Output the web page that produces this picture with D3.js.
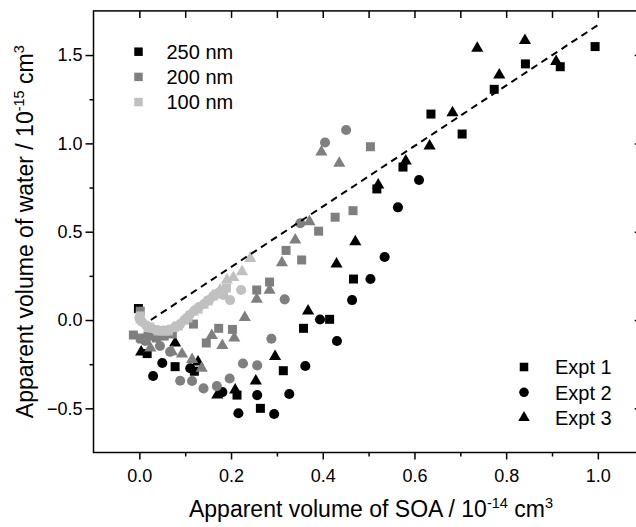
<!DOCTYPE html>
<html><head><meta charset="utf-8">
<script src="https://cdn.jsdelivr.net/npm/d3@7"></script>
<style>
body{margin:0;background:#fff}
text{font-family:"Liberation Sans",Arial,sans-serif;fill:#000}
</style>
</head><body>
<svg id="c" width="636" height="527"></svg>
<script>
// ---- data (x: apparent volume of SOA /1e-14 cm3, y: apparent volume of water /1e-15 cm3)
const sizeLabels = ["250 nm", "200 nm", "100 nm"];
const exptLabels = ["Expt 1", "Expt 2", "Expt 3"];
const sizeColors = ["#000000", "#7f7f7f", "#c0c0c0"];

const nm250_e1 = [[-0.002,0.065],[0.017,-0.19],[0.078,-0.264],[0.120,-0.29],[0.213,-0.425],[0.264,-0.50],[0.314,-0.287],[0.358,-0.047],[0.415,0.004],[0.467,0.232],[0.518,0.742],[0.575,0.866],[0.636,1.166],[0.704,1.053],[0.774,1.306],[0.842,1.450],[0.918,1.434],[0.994,1.548]];
const nm250_e2 = [[0.030,-0.317],[0.050,-0.243],[0.111,-0.273],[0.181,-0.408],[0.216,-0.528],[0.257,-0.425],[0.294,-0.532],[0.327,-0.419],[0.362,-0.260],[0.394,0.003],[0.431,-0.119],[0.464,0.113],[0.504,0.232],[0.535,0.357],[0.564,0.638],[0.610,0.793]];
const nm250_e3 = [[0.004,-0.181],[0.078,-0.130],[0.128,-0.238],[0.170,-0.425],[0.209,-0.396],[0.254,-0.345],[0.296,-0.207],[0.368,0.051],[0.430,0.317],[0.471,0.443],[0.521,0.764],[0.581,0.900],[0.633,0.985],[0.683,1.174],[0.737,1.539],[0.785,1.387],[0.841,1.582],[0.909,1.463]];

const nm200_e1 = [[0.002,0.05],[-0.013,-0.085],[0.002,-0.102],[0.019,-0.091],[0.037,-0.102],[0.054,-0.091],[0.072,-0.079],[0.118,-0.023],[0.146,-0.130],[0.173,-0.047],[0.203,-0.053],[0.256,0.170],[0.284,0.215],[0.320,0.394],[0.354,0.340],[0.391,0.503],[0.427,0.582],[0.466,0.619],[0.504,0.981]];
const nm200_e2 = [[0.013,-0.119],[0.045,-0.147],[0.067,-0.180],[0.089,-0.344],[0.115,-0.345],[0.140,-0.387],[0.169,-0.374],[0.197,-0.331],[0.226,-0.246],[0.257,-0.257],[0.288,-0.106],[0.317,0.117],[0.351,0.548],[0.405,1.005],[0.451,1.076]];
const nm200_e3 = [[0.008,-0.113],[0.024,-0.159],[0.071,-0.180],[0.093,-0.193],[0.115,-0.223],[0.136,-0.273],[0.158,-0.088],[0.181,-0.144],[0.207,-0.102],[0.230,0.014],[0.256,0.117],[0.284,0.168],[0.311,0.324],[0.340,0.453],[0.371,0.557],[0.397,0.951],[0.436,0.887]];

const nm100_e1 = [[0.002,0.023],[0.019,-0.040],[0.041,-0.062],[0.063,-0.062],[0.085,-0.034],[0.106,0.011],[0.128,0.062],[0.150,0.108],[0.168,0.147],[0.190,0.181]];
const nm100_e2 = [[0.000,0.011],[0.006,-0.011],[0.015,-0.031],[0.026,-0.045],[0.039,-0.057],[0.052,-0.059],[0.065,-0.054],[0.078,-0.040],[0.089,-0.023],[0.098,0.000],[0.109,0.028],[0.119,0.051],[0.130,0.074],[0.141,0.091],[0.152,0.113],[0.161,0.136],[0.172,0.153],[0.183,0.142],[0.198,0.113],[0.222,0.170]];
const nm100_e3 = [[0.004,0.000],[0.030,-0.051],[0.054,-0.068],[0.074,-0.045],[0.096,-0.006],[0.117,0.045],[0.139,0.085],[0.159,0.130],[0.176,0.170],[0.191,0.227],[0.205,0.241],[0.224,0.274],[0.242,0.349]];

const fitX = [0.025, 1.0];
const fitY = [0.0, 1.67];

const xMajor = [0.0, 0.2, 0.4, 0.6, 0.8, 1.0];
const xMinor = [0.1, 0.3, 0.5, 0.7, 0.9];
const xTop = [0.0, 0.1, 0.2, 0.3, 0.4, 0.5, 0.6, 0.7, 0.8, 0.9, 1.0];
const yMajor = [-0.5, 0.0, 0.5, 1.0, 1.5];
const yMinor = [-0.25, 0.25, 0.75, 1.25];

// ---- chart
const svg = d3.select("#c");
const x = d3.scaleLinear().domain([-0.1, 1.1]).range([93.5, 643.7]);
const y = d3.scaleLinear().domain([-0.75, 1.75]).range([452.5, 10.9]);

const shapes = [d3.symbolSquare, d3.symbolCircle, d3.symbolTriangle];
const shapeSizes = [81, 80, 64];

const series = [
  [nm250_e1, nm250_e2, nm250_e3],
  [nm200_e1, nm200_e2, nm200_e3],
  [nm100_e1, nm100_e2, nm100_e3]
];

const pts = svg.append("g");
series.forEach((grp, si) => {
  grp.forEach((data, ei) => {
    pts.append("g").selectAll("path").data(data).join("path")
      .attr("transform", d => `translate(${x(d[0])},${y(d[1])})`)
      .attr("d", d3.symbol().type(shapes[ei]).size(shapeSizes[ei]))
      .attr("fill", sizeColors[si]);
  });
});

// dashed fit line
svg.append("path")
  .datum(fitX.map((v, i) => [v, fitY[i]]))
  .attr("d", d3.line().x(d => x(d[0])).y(d => y(d[1])))
  .attr("fill", "none").attr("stroke", "#000").attr("stroke-width", 2)
  .attr("stroke-dasharray", "7,5");

// axes
const fmt = d3.format(".1f");
function styleAxis(g) {
  g.select(".domain").remove();
  g.selectAll(".tick line").attr("stroke", "#000").attr("stroke-width", 1.5);
  g.selectAll(".tick text").style("font-size", "18px").attr("fill", "#000");
}
const yb = y(-0.75), yt = y(1.75), xl = x(-0.1), xr = x(1.1);
svg.append("g").attr("transform", `translate(0,${yb})`)
  .call(d3.axisBottom(x).tickValues(xMajor).tickSize(7).tickPadding(10).tickFormat(fmt)).call(styleAxis);
svg.append("g").attr("transform", `translate(0,${yb})`)
  .call(d3.axisBottom(x).tickValues(xMinor).tickSize(4).tickFormat("")).call(styleAxis);
svg.append("g").attr("transform", `translate(0,${yt})`)
  .call(d3.axisBottom(x).tickValues(xTop).tickSize(7).tickFormat("")).call(styleAxis);
svg.append("g").attr("transform", `translate(${xl},0)`)
  .call(d3.axisLeft(y).tickValues(yMajor).tickSize(8).tickPadding(3).tickFormat(fmt)).call(styleAxis);
svg.append("g").attr("transform", `translate(${xl},0)`)
  .call(d3.axisLeft(y).tickValues(yMinor).tickSize(4).tickFormat("")).call(styleAxis);
svg.append("g").attr("transform", `translate(${xr},0)`)
  .call(d3.axisLeft(y).tickValues(yMajor).tickSize(9).tickFormat("")).call(styleAxis);

svg.append("rect").attr("x", xl).attr("y", yt).attr("width", xr - xl).attr("height", yb - yt)
  .attr("fill", "none").attr("stroke", "#000").attr("stroke-width", 1.5);

// axis titles
const xt = svg.append("text").attr("x", 371).attr("y", 517)
  .attr("text-anchor", "middle").style("font-size", "23px");
xt.append("tspan").text("Apparent volume of SOA / 10");
xt.append("tspan").attr("dy", -9).style("font-size", "14.5px").text("-14");
xt.append("tspan").attr("dy", 9).text(" cm");
xt.append("tspan").attr("dy", -9).style("font-size", "14.5px").text("3");

const ytl = svg.append("text").attr("transform", `translate(33,${(yt + yb) / 2}) rotate(-90)`)
  .attr("text-anchor", "middle").style("font-size", "23px");
ytl.append("tspan").text("Apparent volume of water / 10");
ytl.append("tspan").attr("dy", -9).style("font-size", "14.5px").text("-15");
ytl.append("tspan").attr("dy", 9).text(" cm");
ytl.append("tspan").attr("dy", -9).style("font-size", "14.5px").text("3");

// legend: sizes
const lg1 = svg.append("g");
sizeLabels.forEach((lab, i) => {
  const cy = 51.7 + i * 25.2;
  lg1.append("path").attr("transform", `translate(138.5,${cy})`)
    .attr("d", d3.symbol().type(d3.symbolSquare).size(72)).attr("fill", sizeColors[i]);
  lg1.append("text").attr("x", 166.5).attr("y", cy).attr("dy", "0.36em")
    .style("font-size", "20px").text(lab);
});
// legend: experiments
const lg2 = svg.append("g");
exptLabels.forEach((lab, i) => {
  const cy = 367 + i * 25.3;
  lg2.append("path").attr("transform", `translate(524,${cy})`)
    .attr("d", d3.symbol().type(shapes[i]).size(shapeSizes[i] * 0.9)).attr("fill", "#000");
  lg2.append("text").attr("x", 555).attr("y", cy).attr("dy", "0.36em")
    .style("font-size", "20px").text(lab);
});
</script>
</body></html>
